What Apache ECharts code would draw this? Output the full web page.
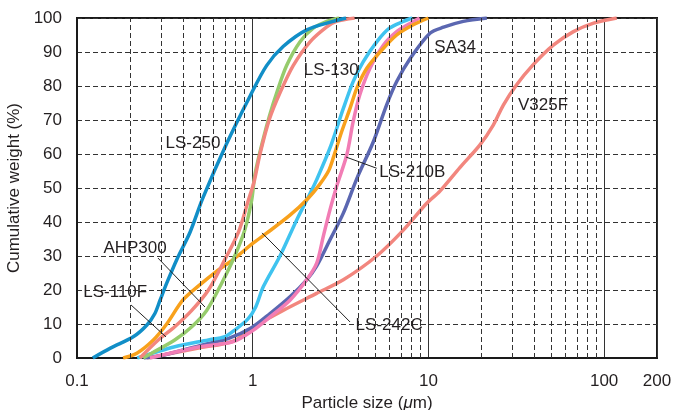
<!DOCTYPE html>
<html>
<head>
<meta charset="utf-8">
<title>Cumulative weight</title>
<script src="https://cdn.jsdelivr.net/npm/echarts@6/dist/echarts.min.js"></script>
<style>
html, body { margin: 0; padding: 0; background: #fff; }
#main { width: 675px; height: 410px; }
</style>
</head>
<body>
<div id="main"></div>
<script type="text/javascript">
// 曲线数据 [粒径 um, 累积重量 %]
var ls250 = [[0.123, 0], [0.155, 2.9], [0.21, 6.3], [0.25, 9.7], [0.277, 13], [0.297, 17], [0.324, 22],
	[0.37, 29], [0.44, 37], [0.52, 47], [0.71, 63], [0.965, 77], [1.2, 86], [1.49, 91.6], [2.03, 96.5],
	[2.87, 99], [3.4, 100]];
var ls110f = [[0.228, 0], [0.29, 5.3], [0.36, 9.2], [0.45, 14], [0.56, 20], [0.695, 29], [0.83, 37],
	[0.94, 46], [1.02, 52], [1.10, 60], [1.25, 70.5], [1.43, 78], [1.70, 86], [2.12, 93], [2.64, 97.4],
	[3.0, 99], [3.8, 100]];
var ahp300 = [[0.238, 0], [0.266, 1.4], [0.36, 5.3], [0.45, 9.2], [0.547, 14], [0.666, 22], [0.79, 30],
	[0.90, 37.6], [0.987, 46.5], [1.03, 54], [1.15, 64.6], [1.25, 71.5], [1.37, 78], [1.56, 86],
	[1.86, 93], [2.21, 97], [2.64, 99], [3.1, 100]];
var ls242c = [[0.183, 0], [0.219, 1.4], [0.272, 5.3], [0.324, 10], [0.40, 17], [0.50, 21.5], [0.62, 25.4],
	[0.776, 29], [1.0, 33.7], [1.2, 36.7], [1.63, 42], [2.07, 47], [2.4, 51], [2.7, 55], [2.88, 59],
	[3.21, 66.6], [3.58, 73.4], [3.91, 79.3], [4.46, 85.2], [5.31, 90], [6.6, 95], [8.2, 98], [10, 100]];
var ls130 = [[0.22, 0], [0.36, 3.3], [0.56, 5.3], [0.695, 6.3], [0.79, 8.2], [0.94, 11.5], [1.04, 15],
	[1.15, 21], [1.43, 30], [1.78, 40.6], [2.12, 48.4], [2.31, 52.4], [2.75, 61.7], [3.28, 73.4],
	[3.73, 81.3], [4.26, 87.2], [5.08, 93], [6.0, 97], [7.2, 99], [8.1, 100]];
var sa34 = [[0.24, 0], [0.29, 0.5], [0.56, 4.3], [0.73, 5.8], [0.99, 9], [1.25, 13], [1.63, 18],
	[2.03, 23], [2.31, 27], [2.75, 34.7], [3.28, 42.6], [3.91, 52.7], [4.86, 63.6], [5.78, 74.4],
	[6.6, 81.3], [7.86, 88], [10.2, 95.5], [12.2, 97.3], [15.8, 99], [21.5, 100]];
var ls210b = [[0.26, 0], [0.50, 3.3], [0.776, 4.8], [1.01, 8.2], [1.25, 12], [1.63, 17], [2.03, 23],
	[2.31, 27.8], [2.52, 35.7], [2.75, 43.5], [3.0, 50.4], [3.43, 59.7], [3.73, 69.5], [4.07, 77.4],
	[4.65, 85.2], [5.54, 92], [6.6, 96], [7.86, 98.4], [8.9, 100]];
var v325f = [[0.25, 0], [0.5, 3], [0.78, 5], [1.0, 9], [1.49, 14], [2.31, 19], [3.28, 23], [5.08, 30],
	[7.2, 37.6], [9.78, 45.5], [11.6, 49], [15.1, 56], [19.6, 62.6], [23.4, 68.5], [26.7, 74.4],
	[31.7, 80.3], [39.4, 86.2], [51.4, 92], [66.9, 96], [87.1, 98.5], [118, 100]];

// 次网格线位置
var minorTicks = [0.2, 0.3, 0.4, 0.5, 0.6, 0.7, 0.8, 0.9, 2, 3, 4, 5, 6, 7, 8, 9, 20, 30, 40, 50, 60, 70, 80, 90];

// 曲线名称标注 [x, y, 名称]
var curveLabels = [[0.457, 63.2, 'LS-250'], [2.8, 84.7, 'LS-130'], [14.2, 91.5, 'SA34'],
	[44.9, 74.4, 'V325F'], [8.1, 54.7, 'LS-210B'], [0.214, 32.4, 'AHP300'], [0.165, 19.4, 'LS-110F'],
	[5.98, 9.7, 'LS-242C']];
// 引线
var leaders = [[[0.289, 29.4], [0.535, 15]], [[0.203, 15.6], [0.321, 6.2]],
	[[1.13, 36.8], [3.58, 10.6]], [[3.40, 59.1], [5.08, 55.8]]];

var font = '"Liberation Sans", Arial, Helvetica, sans-serif';
var fs = 17;
var txt = '#231f20';

function curve(name, data, color) {
	return {
		name: name,
		type: 'line',
		data: data,
		smooth: 0.3,
		showSymbol: false,
		symbol: 'none',
		lineStyle: { color: color, width: 3.5 },
		z: 3
	};
}

var myChart = echarts.init(document.getElementById('main'));

var option = {
	animation: false,
	grid: {
		left: 77, right: 18, top: 18, bottom: 52,
		outerBoundsMode: 'none',
		containLabel: false,
		show: true, borderColor: '#1a1a1a', borderWidth: 2, backgroundColor: 'transparent'
	},
	xAxis: {
		type: 'log',
		logBase: 10,
		min: 0.1,
		max: 200,
		name: 'Particle size ({i|\u03bc}m)',
		nameLocation: 'middle',
		nameGap: 31,
		nameTextStyle: {
			fontFamily: font, fontSize: fs, color: txt,
			rich: { i: { fontFamily: font, fontSize: fs, color: txt, fontStyle: 'italic' } }
		},
		axisLine: { show: true, lineStyle: { color: '#1a1a1a', width: 2 } },
		axisTick: { show: false },
		axisLabel: { fontFamily: font, fontSize: fs, color: txt, margin: 15, showMaxLabel: true },
		splitLine: { show: true, lineStyle: { color: '#333', width: 1, type: 'solid' } }
	},
	yAxis: {
		type: 'value',
		min: 0,
		max: 100,
		interval: 10,
		name: 'Cumulative weight (%)',
		nameLocation: 'middle',
		nameRotate: 90,
		nameGap: 46,
		nameTextStyle: { fontFamily: font, fontSize: fs, color: txt },
		axisLine: { show: true, lineStyle: { color: '#1a1a1a', width: 2 } },
		axisTick: { show: false },
		axisLabel: { fontFamily: font, fontSize: fs, color: txt, margin: 15 },
		splitLine: { show: true, lineStyle: { color: '#333', width: 1, type: [5, 3] } }
	},
	series: [
		{
			// 次网格线
			type: 'line',
			data: [],
			silent: true,
			markLine: {
				silent: true,
				symbol: 'none',
				label: { show: false },
				lineStyle: { color: '#333', width: 1, type: [5, 3] },
				data: minorTicks.map(function (v) { return { xAxis: v }; })
			},
			z: 1
		},
		curve('V325F', v325f, '#f2867e'),
		curve('SA34', sa34, '#5b67b1'),
		curve('LS-210B', ls210b, '#f27db5'),
		curve('LS-130', ls130, '#3fc3ef'),
		curve('LS-242C', ls242c, '#f8a11c'),
		curve('AHP300', ahp300, '#96cb6c'),
		curve('LS-110F', ls110f, '#f2867e'),
		curve('LS-250', ls250, '#118ec7'),
		{
			// 名称标注与引线
			type: 'scatter',
			symbolSize: 0,
			silent: true,
			itemStyle: { color: 'transparent', opacity: 1 },
			data: curveLabels.map(function (d) { return { value: [d[0], d[1]], name: d[2] }; }),
			label: {
				show: true, position: 'inside', formatter: '{b}',
				fontFamily: font, fontSize: fs, color: txt, opacity: 1,
				textBorderWidth: 0, textBorderColor: 'transparent'
			},
			markLine: {
				silent: true,
				symbol: 'none',
				label: { show: false },
				lineStyle: { color: '#222', width: 1, type: 'solid', opacity: 1 },
				data: leaders.map(function (l) {
					return [{ coord: l[0] }, { coord: l[1] }];
				})
			},
			z: 5
		}
	]
};

myChart.setOption(option);
</script>
</body>
</html>
